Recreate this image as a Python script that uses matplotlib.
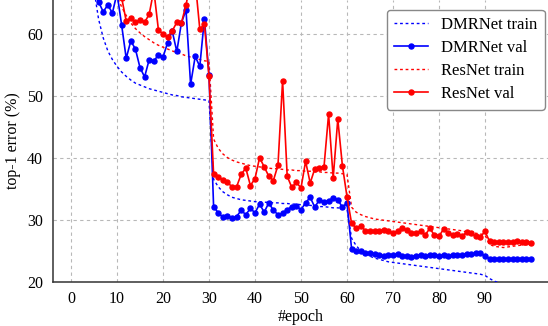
import matplotlib
matplotlib.use("Agg")
import matplotlib.pyplot as plt
import numpy as np

# ---------------- data ----------------
epochs_val = list(range(0, 101))
epochs_train = list(range(1, 101))

dmr_val = [90, 80, 74, 70, 68, 66.5,
           65.1, 63.5, 64.6, 63.3, 66.5, 61.4, 56.0, 58.8, 57.5, 54.5,
           53.0, 55.8, 55.6, 56.5, 56.2, 58.5, 60.4, 57.1, 61.7, 63.8,
           51.8, 56.3, 54.7, 62.4, 53.3,
           32.1, 31.1, 30.4, 30.6, 30.2, 30.5, 31.5, 30.8, 31.8, 31.1,
           32.5, 31.2, 32.7, 31.5, 30.8, 31.0, 31.6, 32.1, 32.2, 31.6,
           32.7, 33.6, 32.0, 33.2, 32.9, 33.0, 33.5, 33.2, 32.0, 32.7,
           25.3, 25.0, 24.9, 24.7, 24.6, 24.4, 24.3, 24.1, 24.3, 24.3,
           24.4, 24.2, 24.1, 24.0, 24.2, 24.3, 24.1, 24.3, 24.3, 24.1,
           24.3, 24.1, 24.3, 24.3, 24.3, 24.5, 24.4, 24.6, 24.6, 24.2,
           23.7, 23.7, 23.7, 23.7, 23.7, 23.7, 23.7, 23.7, 23.7, 23.7]

res_val = [92, 85, 80, 76, 73, 71, 70, 69, 68, 67.5, 67, 65.8,
           62.0, 62.5, 61.8, 62.1, 61.8, 63.1, 67.0, 60.6, 59.9, 59.5,
           60.4, 61.8, 61.7, 64.6, 68.2, 68.4, 60.7, 61.5, 53.1,
           37.3, 36.9, 36.4, 36.0, 35.3, 35.3, 37.3, 38.3, 35.5, 36.6,
           40.0, 38.5, 37.0, 36.3, 38.8, 52.4, 37.0, 35.2, 36.0, 35.1,
           39.4, 35.9, 38.2, 38.3, 38.5, 47.0, 36.7, 46.2, 38.7, 33.7,
           29.4, 28.6, 29.0, 28.2, 28.1, 28.1, 28.2, 28.3, 28.1, 27.8,
           28.2, 28.6, 28.3, 27.9, 27.8, 28.2, 27.5, 28.6, 27.5, 27.3,
           28.5, 27.9, 27.5, 27.7, 27.3, 28.0, 27.9, 27.3, 27.2, 28.1,
           26.5, 26.4, 26.4, 26.4, 26.4, 26.4, 26.5, 26.4, 26.4, 26.3]

dmr_train = [95, 86, 79, 73, 67, 62.3, 59.3, 57.2, 55.8, 54.7,
             53.8, 53.1, 52.5, 52.0, 51.7, 51.4, 51.1, 50.9, 50.7, 50.5,
             50.3, 50.1, 50.0, 49.8, 49.7, 49.6, 49.5, 49.4, 49.3, 49.2,
             36.5, 35.3, 34.5, 34.0, 33.6, 33.4, 33.2, 33.1, 33.0, 32.9,
             32.9, 32.8, 32.8, 32.7, 32.7, 32.6, 32.6, 32.5, 32.5, 32.4,
             32.3, 32.3, 32.2, 32.1, 32.1, 32.0, 31.9, 31.9, 31.8, 31.7,
             27.0, 25.8, 25.0, 24.5, 24.1, 23.8, 23.6, 23.4, 23.2, 23.1,
             23.0, 22.9, 22.8, 22.7, 22.6, 22.5, 22.4, 22.3, 22.2, 22.1,
             22.0, 21.9, 21.8, 21.7, 21.6, 21.5, 21.4, 21.3, 21.2, 21.0,
             20.5, 20.1, 19.8, 19.6, 19.5, 19.4, 19.4, 19.3, 19.3, 19.3]

res_train = [95, 85, 79, 75, 72, 70, 68.8, 67.8, 66.9, 66.0,
             64.3, 62.9, 61.7, 60.8, 60.1, 59.5, 59.0, 58.5, 58.1, 57.8,
             57.5, 57.2, 56.9, 56.7, 56.4, 56.2, 56.0, 55.8, 55.6, 55.5,
             43.0, 41.5, 40.6, 40.0, 39.6, 39.3, 39.1, 38.9, 38.7, 38.6,
             38.5, 38.4, 38.3, 38.2, 38.2, 38.1, 38.0, 38.0, 37.9, 37.9,
             37.8, 37.8, 37.7, 37.7, 37.6, 37.6, 37.5, 37.5, 37.4, 37.3,
             32.0, 31.2, 30.8, 30.5, 30.3, 30.1, 30.0, 29.9, 29.8, 29.7,
             29.6, 29.5, 29.4, 29.3, 29.2, 29.1, 29.0, 28.9, 28.8, 28.7,
             28.6, 28.5, 28.4, 28.3, 28.2, 28.0, 27.9, 27.8, 27.7, 27.5,
             26.0, 25.7, 25.6, 25.5, 25.6, 25.7, 25.8, 25.9, 25.9, 25.9]

xticks = [0, 10, 20, 30, 40, 50, 60, 70, 80, 90]
yticks = [20, 30, 40, 50, 60]

# ---------------- plot ----------------
plt.rcParams['font.family'] = ['Liberation Serif', 'DejaVu Serif']

fig = plt.figure(figsize=(5.48, 3.26), dpi=100)
ax = fig.add_axes([0.096, 0.136, 0.904, 0.864])

blue = '#0000ff'
red = '#ff0000'
dots = (0, (2, 2))

ax.plot(epochs_train, dmr_train, color=blue, lw=1.0, ls=dots, label='DMRNet train', zorder=3)
ax.plot(epochs_val, dmr_val, color=blue, lw=1.2, marker='o', ms=3.6, label='DMRNet val', zorder=4)
ax.plot(epochs_train, res_train, color=red, lw=1.0, ls=dots, label='ResNet train', zorder=3)
ax.plot(epochs_val, res_val, color=red, lw=1.2, marker='o', ms=3.6, label='ResNet val', zorder=5)

ax.set_xlim(-4.0, 103.7)
ax.set_ylim(20, 65.4)
ax.set_xticks(xticks)
ax.set_yticks(yticks)
ax.tick_params(length=0, labelsize=11.5, pad=7)
ax.grid(True, ls=(0, (3, 3)), color='#b8b8b8', lw=0.8)
ax.set_axisbelow(True)
for s in ['top', 'right']:
    ax.spines[s].set_visible(False)
for s in ['left', 'bottom']:
    ax.spines[s].set_color('#333333')
    ax.spines[s].set_linewidth(1.1)

ax.set_xlabel('#epoch', fontsize=11.5, labelpad=1)
ax.set_ylabel('top-1 error (%)', fontsize=11.5, labelpad=4)

leg = ax.legend(loc='upper right', bbox_to_anchor=(1.0, 0.978), fontsize=12,
                frameon=True, fancybox=True, edgecolor='#888888', framealpha=1,
                handlelength=2.05, handletextpad=0.75, borderpad=0.45,
                labelspacing=0.42, borderaxespad=0.2)
leg.get_frame().set_linewidth(1.0)

fig.savefig('out.png', dpi=100)
